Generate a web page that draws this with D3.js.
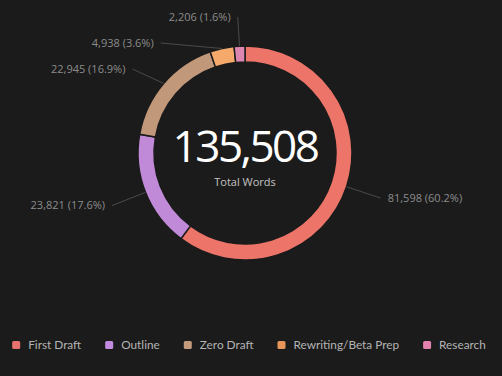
<!DOCTYPE html>
<html>
<head>
<meta charset="utf-8">
<script src="https://cdn.jsdelivr.net/npm/d3@7"></script>
<style>
  html, body { margin: 0; padding: 0; background: #1b1b1b; }
  svg { display: block; font-family: "Open Sans", sans-serif; }
</style>
</head>
<body>
<div id="chart"></div>
<script>
var categories = ["First Draft", "Outline", "Zero Draft", "Rewriting/Beta Prep", "Research"];
var words = [81598, 23821, 22945, 4938, 2206];
var colors = ["#ec7468", "#c08ad8", "#c2987a", "#f5aa6c", "#de86b2"];
var legendColors = ["#e8736c", "#c38be0", "#c49a7c", "#e8955a", "#e282ac"];
var centerLabel = "Total Words";

var w = 502, h = 376;
var cx = 245, cy = 153;
var outerR = 107, innerR = 91;
var labelR = 143;   // end of the leader line
var gap = 26;       // min vertical distance between labels
var topLimit = 17;

var total = d3.sum(words);
var fmt = d3.format(",");

var svg = d3.select("#chart")
  .append("svg")
  .attr("width", w)
  .attr("height", h);

svg.append("rect")
  .attr("width", w)
  .attr("height", h)
  .attr("fill", "#1b1b1b");

var data = categories.map(function(c, i) {
  return { name: c, value: words[i], color: colors[i], legend: legendColors[i] };
});

var pie = d3.pie()
  .sort(null)
  .value(function(d) { return d.value; });

var arc = d3.arc()
  .innerRadius(innerR)
  .outerRadius(outerR);

var arcs = pie(data);

var g = svg.append("g")
  .attr("transform", "translate(" + cx + "," + cy + ")");

g.selectAll("path")
  .data(arcs)
  .enter()
  .append("path")
  .attr("d", arc)
  .attr("fill", function(d) { return d.data.color; })
  .attr("stroke", "#1b1b1b")
  .attr("stroke-width", 1.5);

// label layout: radial first, then push apart on each side
var labels = arcs.map(function(d) {
  var a = (d.startAngle + d.endAngle) / 2;
  return {
    d: d,
    a: a,
    dir: Math.sin(a) >= 0 ? 1 : -1,
    x0: Math.sin(a) * outerR,
    y0: -Math.cos(a) * outerR,
    x: Math.sin(a) * labelR,
    y: -Math.cos(a) * labelR
  };
});

[1, -1].forEach(function(dir) {
  var side = labels.filter(function(l) { return l.dir == dir; });
  side.sort(function(a, b) { return a.y - b.y; });
  var moved = false;
  for (var i = 0; i < side.length; i++) {
    var minY = i == 0 ? topLimit - cy : side[i - 1].y + gap;
    if (side[i].y < minY) { side[i].y = minY; moved = true; }
  }
  if (!moved) return;
  // keep the shifted labels on an ellipse (top half only here)
  var top = side.filter(function(l) { return l.y < 0; });
  if (!top.length) return;
  var far = top[0];
  var rB = Math.abs(far.x) < labelR
    ? Math.sqrt(far.y * far.y / (1 - far.x * far.x / labelR / labelR))
    : labelR;
  top.forEach(function(l) {
    var dx = Math.sqrt(Math.max(0, 1 - l.y * l.y / rB / rB)) * labelR;
    l.x = dir * dx;
  });
});

g.selectAll("line.lead")
  .data(labels)
  .enter()
  .append("line")
  .attr("class", "lead")
  .attr("x1", function(l) { return l.x0; })
  .attr("y1", function(l) { return l.y0; })
  .attr("x2", function(l) { return l.x; })
  .attr("y2", function(l) { return l.y; })
  .attr("stroke", "#4a4a4a")
  .attr("stroke-width", 1);

g.selectAll("text.lbl")
  .data(labels)
  .enter()
  .append("text")
  .attr("class", "lbl")
  .attr("x", function(l) { return l.x + l.dir * 7; })
  .attr("y", function(l) { return l.y; })
  .attr("dy", "0.35em")
  .attr("text-anchor", function(l) { return l.dir > 0 ? "start" : "end"; })
  .attr("font-size", 11)
  .attr("fill", "#8c8c8c")
  .text(function(l) {
    return fmt(l.d.data.value) + " (" + (l.d.data.value / total * 100).toFixed(1) + "%)";
  });

// center
g.append("text")
  .attr("text-anchor", "middle")
  .attr("y", 9)
  .attr("font-size", 44)
  .attr("letter-spacing", -2.5)
  .attr("fill", "#ffffff")
  .text(fmt(total));

g.append("text")
  .attr("text-anchor", "middle")
  .attr("y", 33)
  .attr("font-size", 11)
  .attr("fill", "#c4c4c4")
  .text(centerLabel);

// legend
var legend = svg.append("g");
var lx = 0;
data.forEach(function(d) {
  var item = legend.append("g").attr("transform", "translate(" + lx + ",0)");
  item.append("rect")
    .attr("x", 0)
    .attr("y", -4)
    .attr("width", 8)
    .attr("height", 8)
    .attr("rx", 1.5)
    .attr("fill", d.legend);
  var t = item.append("text")
    .attr("x", 16)
    .attr("dy", "0.38em")
    .attr("font-family", "Lato, sans-serif")
    .attr("font-size", 11.8)
    .attr("fill", "#b4b4b4")
    .text(d.name);
  lx += 16 + t.node().getComputedTextLength() + 24;
});
lx -= 24;
legend.attr("transform", "translate(" + (249 - lx / 2) + ",345)");
</script>
</body>
</html>
